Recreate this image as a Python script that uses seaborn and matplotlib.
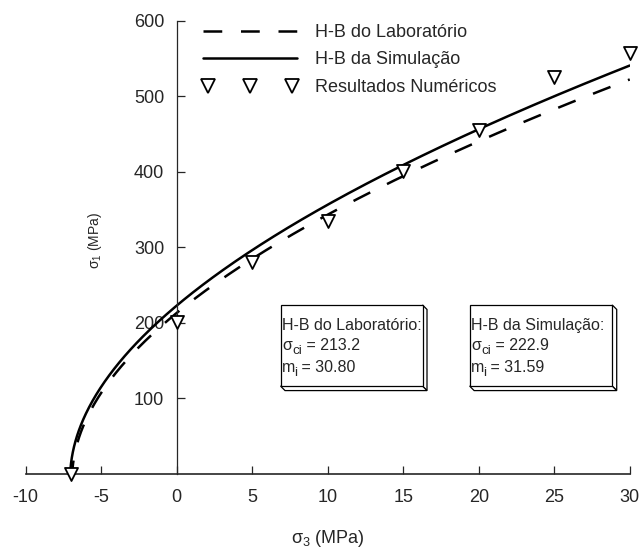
import numpy as np
import pandas as pd
import matplotlib
matplotlib.use("Agg")
import matplotlib.pyplot as plt
import seaborn as sns
from matplotlib.patches import Polygon
from matplotlib.lines import Line2D
from matplotlib.legend_handler import HandlerLine2D

# Hoek-Brown parameters (intact rock: s = 1, a = 0.5)
lab_sigma_ci = 213.2
lab_m_i = 30.80
sim_sigma_ci = 222.9
sim_m_i = 31.59

# numerical results
num_sigma3 = [-7, 0, 5, 10, 15, 20, 25, 30]
num_sigma1 = [0, 201, 281, 335, 401, 455, 526, 558]

x_ticks = [-10, -5, 0, 5, 10, 15, 20, 25, 30]
y_ticks = [100, 200, 300, 400, 500, 600]

legend_labels = ["H-B do Laboratório", "H-B da Simulação", "Resultados Numéricos"]
box_titles = ["H-B do Laboratório:", "H-B da Simulação:"]


def hoek_brown(sigma_ci, m_i, s3_max=30.0, n=500):
    s3_min = -sigma_ci / m_i
    t = np.linspace(0.0, 1.0, n)
    s3 = s3_min + (s3_max - s3_min) * t ** 2
    s1 = s3 + sigma_ci * np.sqrt(np.clip(m_i * s3 / sigma_ci + 1.0, 0.0, None))
    return pd.DataFrame({"sigma3": s3, "sigma1": s1})


sns.set_style("ticks")
plt.rcParams["font.family"] = ["Liberation Sans", "DejaVu Sans"]
plt.rcParams["mathtext.fontset"] = "custom"
plt.rcParams["mathtext.rm"] = "Liberation Sans"
plt.rcParams["mathtext.it"] = "Liberation Sans:italic"

fig = plt.figure(figsize=(6.4, 5.48), dpi=100)
ax = fig.add_axes([0.040, 0.135, 0.944, 0.827])

lab = hoek_brown(lab_sigma_ci, lab_m_i)
sim = hoek_brown(sim_sigma_ci, sim_m_i)

dash = (0, (7.5, 7.5))
sns.lineplot(data=lab, x="sigma3", y="sigma1", ax=ax, color="black",
             linewidth=1.8, linestyle=dash, sort=False, estimator=None)
sns.lineplot(data=sim, x="sigma3", y="sigma1", ax=ax, color="black",
             linewidth=1.8, sort=False, estimator=None)
sns.scatterplot(x=num_sigma3, y=num_sigma1, ax=ax, marker="v", s=13 ** 2 * 0.52,
                facecolor="white", edgecolor="black", linewidth=1.3,
                zorder=5, clip_on=False)

ax.set_xlim(-10, 30)
ax.set_ylim(0, 600)
ax.set_xticks(x_ticks)
ax.set_xticklabels([str(v) for v in x_ticks])
ax.set_yticks(y_ticks)
ax.set_yticklabels([str(v) for v in y_ticks])

ax.spines["top"].set_visible(False)
ax.spines["right"].set_visible(False)
ax.spines["left"].set_position(("data", 0))
ax.spines["left"].set_linewidth(0.9)
ax.spines["bottom"].set_linewidth(1.2)
ax.tick_params(axis="x", direction="in", length=6, width=0.9, labelsize=13, pad=11)
ax.tick_params(axis="y", direction="in", length=6, width=0.9, labelsize=13, pad=9)

ax.set_xlabel(r"σ$_{\mathregular{3}}$ (MPa)", fontsize=13)
ax.set_ylabel(r"σ$_{\mathregular{1}}$ (MPa)", fontsize=10)
ax.xaxis.label.set_va("center")
ax.xaxis.set_label_coords(0.5, -0.1420)
ax.yaxis.label.set_va("center")
ax.yaxis.set_label_coords(0.1147, 0.515)

handles = [
    Line2D([], [], color="black", linewidth=1.8, linestyle=dash),
    Line2D([], [], color="black", linewidth=1.8),
    Line2D([], [], color="black", linestyle="none", marker="v", markersize=9.5,
           markerfacecolor="white", markeredgewidth=1.3),
]
ax.legend(handles, legend_labels, loc="upper left", bbox_to_anchor=(0.293, 0.993),
          frameon=False, fontsize=13, handlelength=5.25, handletextpad=1.0,
          labelspacing=0.58, borderpad=0.0, borderaxespad=0.0, numpoints=1,
          handler_map={handles[2]: HandlerLine2D(numpoints=3)})


def subscripted(ax, tx, yb, base, sub, rest, gap, size=11.5, sub_size=9.7):
    """Write base + lowered subscript + rest on one baseline (axes coords)."""
    t0 = ax.text(tx, yb, base, transform=ax.transAxes, fontsize=size,
                 ha="left", va="baseline", zorder=7)
    t1 = ax.annotate(sub, xy=(1, yb), xycoords=(t0, "axes fraction"),
                     xytext=(gap, -3.0), textcoords="offset points",
                     fontsize=sub_size, ha="left", va="baseline", zorder=7)
    ax.annotate(rest, xy=(1, yb), xycoords=(t1, "axes fraction"),
                xytext=(0, 0), textcoords="offset points",
                fontsize=size, ha="left", va="baseline", zorder=7)


def draw_box(ax, x0, y0, x1, y1, title, sigma_ci, m_i, tx, baselines):
    dx, dy = 0.0074, 0.0099
    tr = ax.transAxes
    front = Polygon([(x0, y0), (x1, y0), (x1, y1), (x0, y1)], closed=True,
                    facecolor="white", edgecolor="black", linewidth=0.9,
                    transform=tr, clip_on=False, zorder=6)
    side = Polygon([(x1, y1), (x1 + dx, y1 - dy), (x1 + dx, y0 - dy), (x1, y0)],
                   closed=True, facecolor="white", edgecolor="black",
                   linewidth=0.9, transform=tr, clip_on=False, zorder=6)
    bottom = Polygon([(x0, y0), (x0 + dx, y0 - dy), (x1 + dx, y0 - dy), (x1, y0)],
                     closed=True, facecolor="white", edgecolor="black",
                     linewidth=0.9, transform=tr, clip_on=False, zorder=6)
    for p in (side, bottom, front):
        ax.add_patch(p)
    ax.text(tx, baselines[0], title, transform=tr, fontsize=11.5, ha="left",
            va="baseline", zorder=7)
    subscripted(ax, tx, baselines[1], "σ", "ci", " = %.1f" % sigma_ci, 0.2)
    subscripted(ax, tx, baselines[2], "m", "i", " = %.2f" % m_i, -1.0)


baselines = [0.3177, 0.2736, 0.2258]
draw_box(ax, 0.422, 0.194, 0.657, 0.373, box_titles[0], lab_sigma_ci, lab_m_i,
         0.4245, baselines)
draw_box(ax, 0.735, 0.194, 0.971, 0.373, box_titles[1], sim_sigma_ci, sim_m_i,
         0.7375, baselines)

fig.savefig("out.png", dpi=100)
